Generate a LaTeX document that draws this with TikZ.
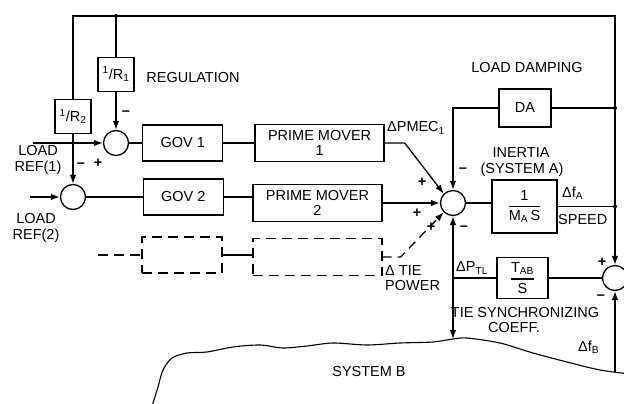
\documentclass[tikz,border=0pt]{standalone}
\usepackage{amsmath}
\usepackage{fontspec}
\setmainfont{Liberation Sans}
\usepackage{tikz}
\usetikzlibrary{arrows.meta,positioning}
\newcommand{\dgmfont}{\fontsize{14.5}{15.5}\selectfont}
\tikzset{
  wire/.style={line width=1.3pt},
  arr/.style={wire,-{Latex[length=9pt,width=6.5pt]}},
  biarr/.style={wire,{Latex[length=9pt,width=6.5pt]}-{Latex[length=9pt,width=6.5pt]}},
  dashwire/.style={wire,dash pattern=on 10pt off 6pt},
  dasharr/.style={arr,dash pattern=on 9pt off 6pt},
  blk/.style={rectangle,draw,line width=1.3pt,align=center,font=\dgmfont,inner sep=1pt},
  govbox/.style={blk,minimum width=80pt,minimum height=36pt},
  pmbox/.style={blk,minimum width=129pt,minimum height=37pt},
  dashgov/.style={govbox,dash pattern=on 10pt off 6pt},
  dashpm/.style={pmbox,dash pattern=on 10pt off 6pt},
  rbox/.style={blk,minimum width=36pt,minimum height=34pt},
  sumnode/.style={circle,draw,line width=1.3pt,minimum size=25pt,inner sep=0pt},
  lbl/.style={font=\dgmfont,inner sep=0pt,align=center},
  sgn/.style={font=\dgmfont\bfseries,inner sep=0pt},
  jdot/.style={circle,fill,inner sep=0pt,minimum size=4pt}
}

\begin{document}
\begin{tikzpicture}[x=1pt,y=-1pt]
  \useasboundingbox (0,0) rectangle (624,404);

  %% UNIT 1
  \node[sumnode] (sum1) at (116,143) {};
  \node[govbox,right=13pt of sum1] (gov1) {GOV 1};
  \node[pmbox,right=31pt of gov1] (pm1) {PRIME MOVER\\1};
  \node[rbox,above=38pt of sum1] (r1) {\textsuperscript{1}/R\textsubscript{1}};

  %% UNIT 2
  \node[sumnode] (sum2) at (73,197) {};
  \node[govbox,right=56.5pt of sum2] (gov2) {GOV 2};
  \node[pmbox] (pm2) at (317.5,203) {PRIME MOVER\\2};
  \node[rbox,above=49.5pt of sum2] (r2) {\textsuperscript{1}/R\textsubscript{2}};

  %% FURTHER UNITS
  \node[dashgov] (dash1) at (182,255) {};
  \node[dashpm] (dash2) at (317.5,257) {};

  %% SYSTEM A
  \node[sumnode] (sumA) at (453,203) {};
  \node[blk,minimum width=65pt,minimum height=53pt] (inertia) at (524.5,206.5)
    {$\genfrac{}{}{1.2pt}{0}{\text{1}}{\text{M}_{\text{A}}\,\text{S}}$};
  \node[blk,minimum width=52pt,minimum height=38pt] (da) at (525,108) {DA};
  \node[blk,minimum width=51pt,minimum height=41pt] (tab) at (522.5,278)
    {$\genfrac{}{}{1.2pt}{0}{\text{T}_{\text{AB}}}{\text{S}}$};
  \node[sumnode] (sumB) at (615,278) {};

  %% FREE ENDS
  \coordinate (ctop) at (615,16);
  \coordinate (jD) at (615,108);
  \coordinate (jA) at (615,206.5);
  \coordinate (ref1) at (33,143);
  \coordinate (ref2) at (30,197);
  \coordinate (dashin) at (98,255);
  \coordinate (bA) at (453,339);
  \coordinate (bB) at (615,372);

  %% CONNECTIONS
  \draw[wire] (r2.north) |- (ctop) -- (jA) -- (inertia.east);
  \draw[wire] (r1.north) -- (r1.north |- ctop);
  \draw[arr] (jA) -- (sumB.north);
  \draw[wire] (da.east) -- (jD);
  \draw[arr] (da.west) -| (sumA.north);
  \draw[arr] (r1) -- (sum1);
  \draw[arr] (r2) -- (sum2);
  \draw[arr] (ref1) -- (sum1);
  \draw[arr] (ref2) -- (sum2);
  \draw[wire] (sum1) -- (gov1);
  \draw[wire] (gov1) -- (pm1);
  \draw[wire] (sum2) -- (gov2);
  \draw[wire] (gov2.east) -- (gov2.east -| pm2.west);
  \draw[arr] (pm2.east) -- (sumA.west);
  \draw[arr] (pm1.east) -- ++(20,0) -- (sumA.135);
  \draw[dashwire] (dashin) -- (dash1.west);
  \draw[wire] (dash1.east) -- (dash1.east -| dash2.west);
  \draw[dasharr] (dash2.east) -- ++(18,0) -- (sumA.225);
  \draw[wire] (sumA.east) -- (sumA.east -| inertia.west);
  \draw[biarr] (sumA.south) -- (bA);
  \draw[wire] (tab.west) -- (tab.west -| sumA.south);
  \draw[wire] (tab.east) -- (sumB.west);
  \draw[arr] (bB) -- (sumB.south);
  \node[jdot] at (jD) {};
  \node[jdot] at (jA) {};
  \node[jdot] at (r1.north |- ctop) {};

  %% SYSTEM B
  \draw[line width=1.1pt] plot[smooth] coordinates {(150,410) (153,403) (158,387) (163,370)
    (172,358) (187,353) (207,352) (233,347) (260,345) (283,348) (307,346) (333,343)
    (367,345) (400,343) (433,342) (453,339) (467,338) (500,343) (533,353) (567,362)
    (600,370) (630,374)};

  %% LABELS
  \node[lbl] at (193,78) {REGULATION};
  \node[lbl] at (527,68) {LOAD DAMPING};
  \node[lbl] at (38,160) {LOAD\\REF(1)};
  \node[lbl] at (36,228) {LOAD\\REF(2)};
  \node[lbl] at (416,128) {ΔPMEC\textsubscript{1}};
  \node[lbl] at (521,153) {INERTIA};
  \node[lbl] at (522,170) {(SYSTEM A)};
  \node[lbl,anchor=west] at (562,193) {Δf\textsubscript{A}};
  \node[lbl,anchor=west] at (558,220) {SPEED};
  \node[lbl,align=left,anchor=west] at (385,278) {Δ TIE\\POWER};
  \node[lbl,anchor=west] at (456,268) {ΔP\textsubscript{TL}};
  \node[lbl] at (525,313) {TIE SYNCHRONIZING};
  \node[lbl] at (514,328) {COEFF.};
  \node[lbl,anchor=west] at (578,347) {Δf\textsubscript{B}};
  \node[lbl] at (369,372) {SYSTEM B};

  %% SIGNS
  \node[sgn] at (126,113) {--};
  \node[sgn] at (98,163) {+};
  \node[sgn] at (81,165) {--};
  \node[sgn] at (463,170) {--};
  \node[sgn] at (422,182) {+};
  \node[sgn] at (417,213) {+};
  \node[sgn] at (431,227) {+};
  \node[sgn] at (464,228) {--};
  \node[sgn] at (602,262) {+};
  \node[sgn] at (601,297) {--};
\end{tikzpicture}
\end{document}
